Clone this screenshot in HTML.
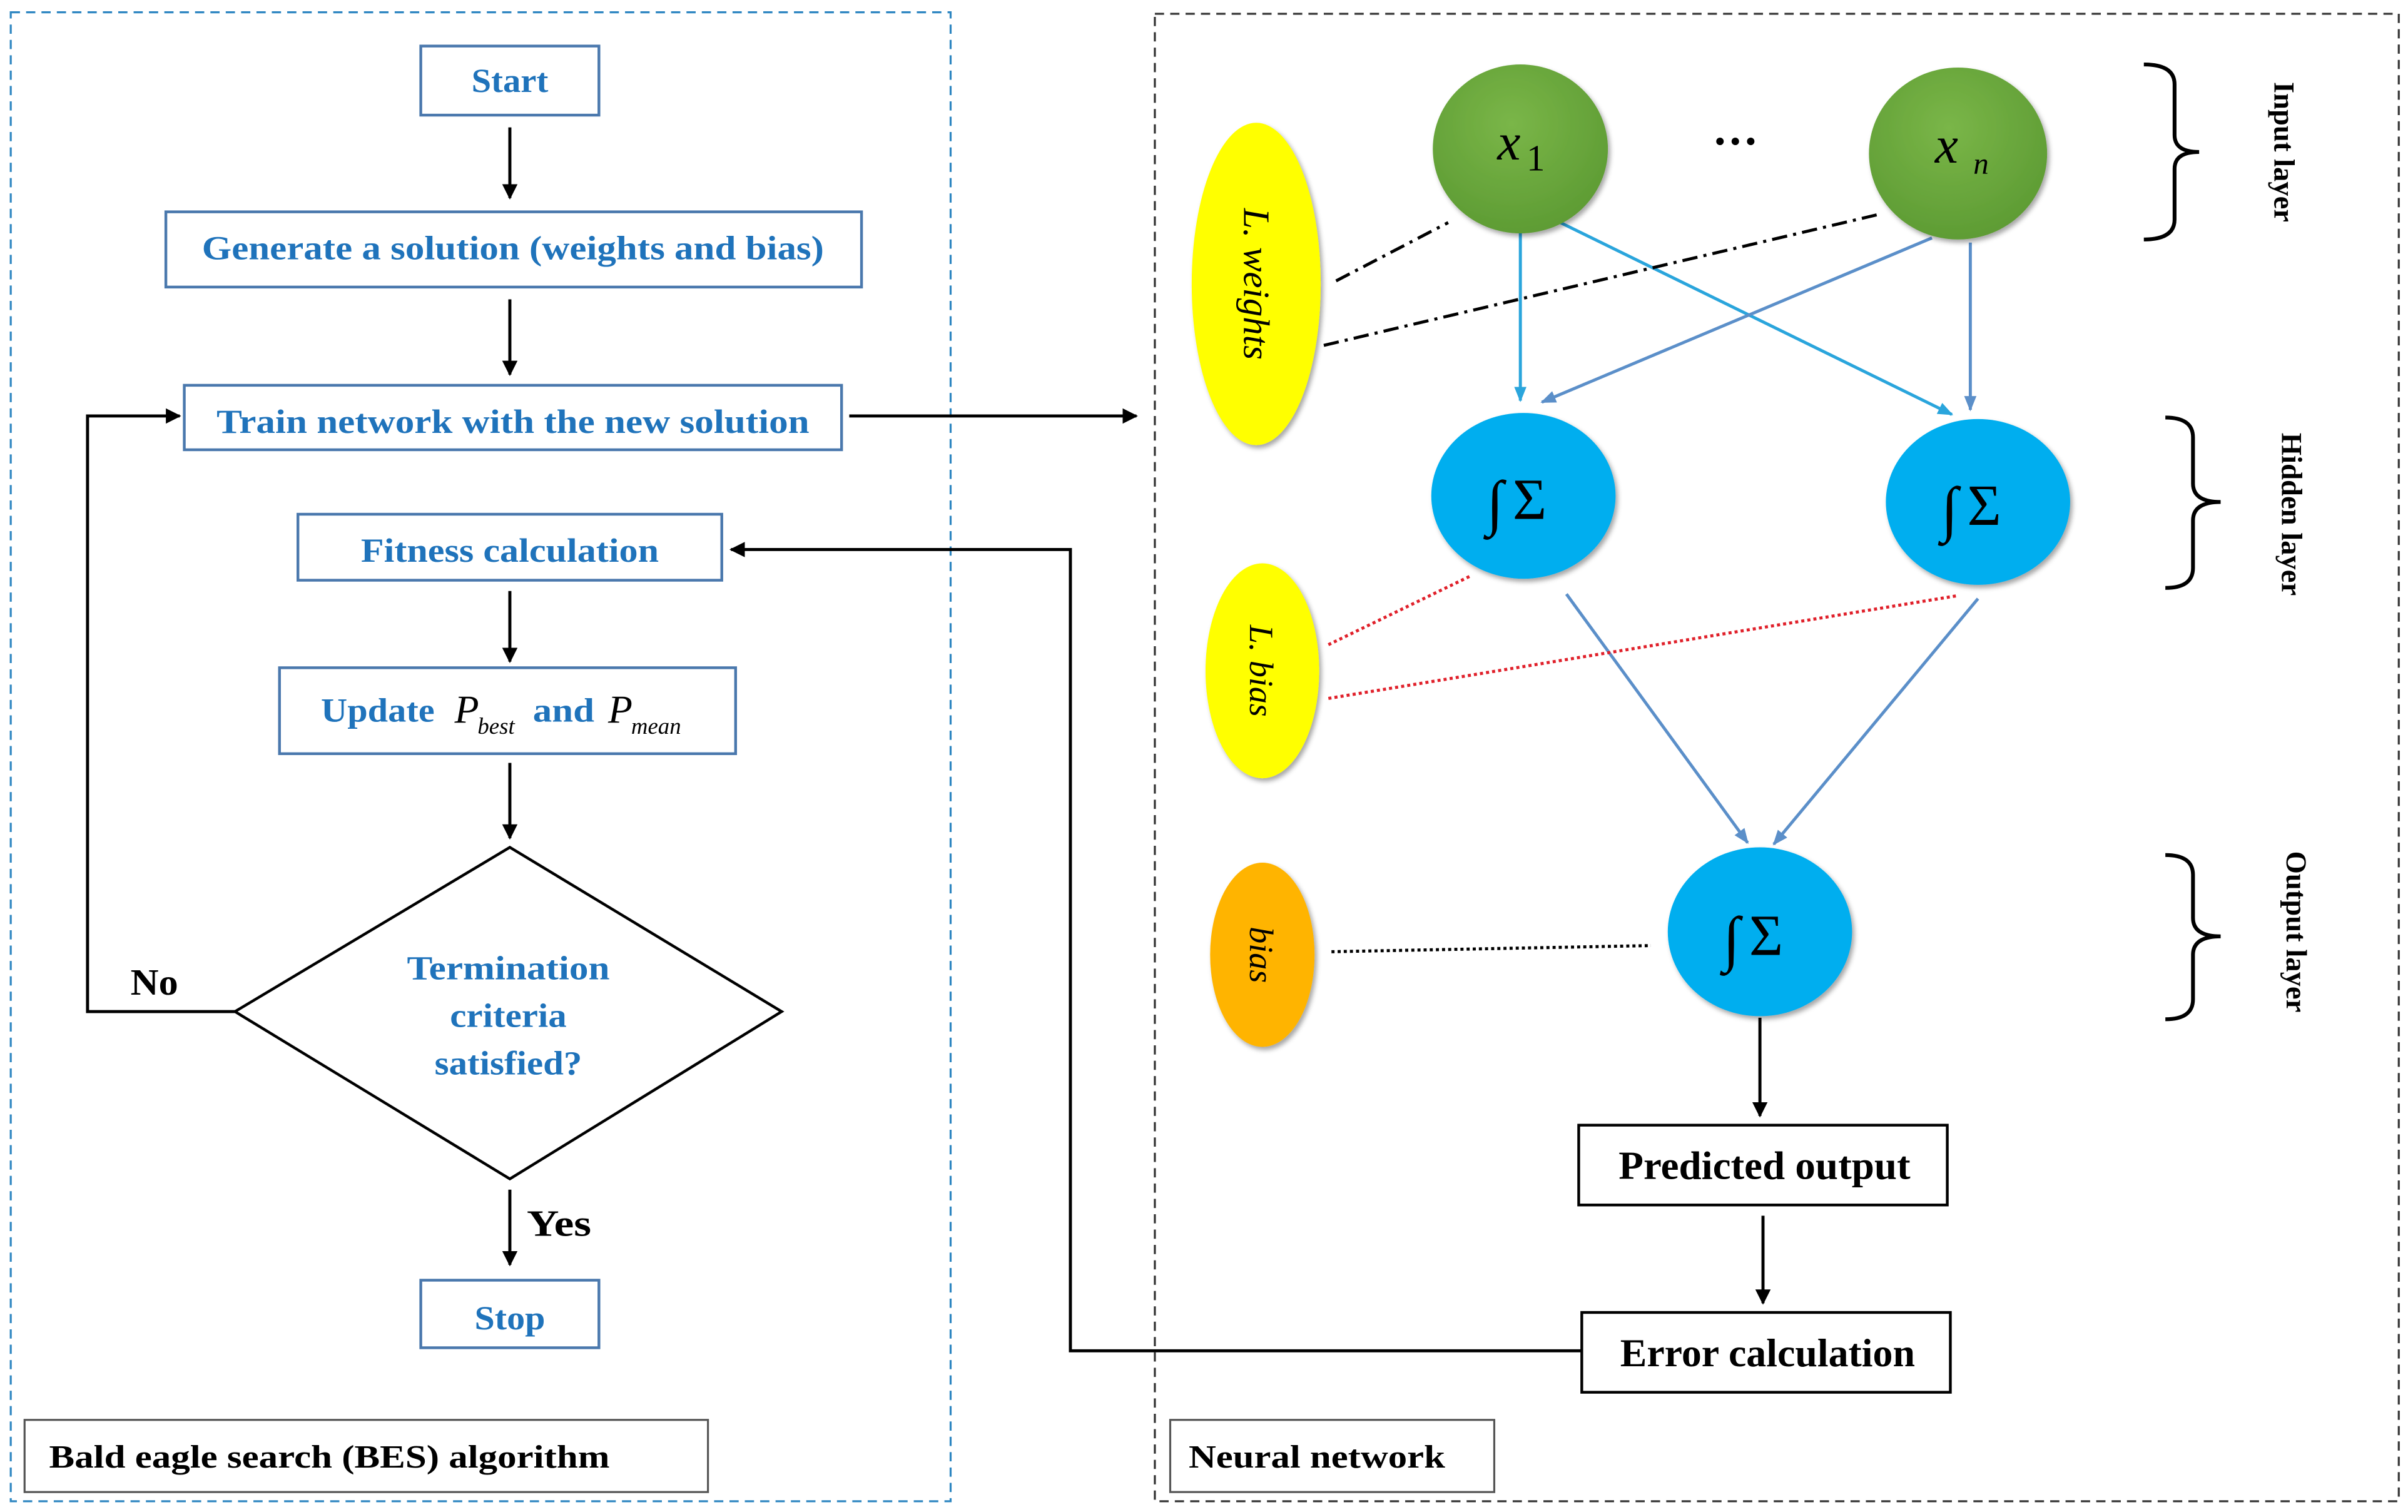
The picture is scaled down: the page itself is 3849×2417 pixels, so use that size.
<!DOCTYPE html>
<html><head><meta charset="utf-8"><style>
html,body{margin:0;padding:0;background:#fff;}
svg{display:block;}
text{font-family:"Liberation Serif",serif;}
</style></head><body>
<svg width="3849" height="2417" viewBox="0 0 1568 985" preserveAspectRatio="none" xmlns="http://www.w3.org/2000/svg">
<defs>
<marker id="ak" markerWidth="10" markerHeight="10" refX="9" refY="5" orient="auto" markerUnits="userSpaceOnUse"><path d="M0,0 L10,5 L0,10 Z" fill="#000"/></marker>
<marker id="ab" markerWidth="10" markerHeight="10" refX="9" refY="5" orient="auto" markerUnits="userSpaceOnUse"><path d="M0,1 L10,5 L0,9 Z" fill="#2aa5dc"/></marker>
<marker id="ag" markerWidth="10" markerHeight="10" refX="9" refY="5" orient="auto" markerUnits="userSpaceOnUse"><path d="M0,1 L10,5 L0,9 Z" fill="#5b8fc9"/></marker>
<radialGradient id="gg" cx="45%" cy="35%" r="65%"><stop offset="0" stop-color="#7ab648"/><stop offset="1" stop-color="#5e9c34"/></radialGradient>
<filter id="sh" x="-20%" y="-20%" width="140%" height="140%"><feDropShadow dx="1.5" dy="2" stdDeviation="1.5" flood-color="#000" flood-opacity="0.35"/></filter>
</defs>
<rect width="1568" height="985" fill="#fff"/>
<rect x="7" y="8" width="612" height="970" fill="none" stroke="#2e86c1" stroke-width="1.3" stroke-dasharray="6,4"/>
<rect x="752" y="9" width="810" height="969" fill="none" stroke="#333" stroke-width="1.3" stroke-dasharray="6,4"/>

<g fill="#fff" stroke="#4a78ad" stroke-width="1.8">
<rect x="274" y="30" width="116" height="45"/>
<rect x="108" y="138" width="453" height="49"/>
<rect x="120" y="251" width="428" height="42"/>
<rect x="194" y="335" width="276" height="43"/>
<rect x="182" y="435" width="297" height="56"/>
<rect x="274" y="834" width="116" height="44"/>
</g>
<polygon points="332,552 509,659 332,768 153,659" fill="#fff" stroke="#000" stroke-width="1.8"/>
<g fill="#1f73bb" font-weight="bold" font-size="22" text-anchor="middle">
<text x="332" y="60" textLength="50" lengthAdjust="spacingAndGlyphs">Start</text>
<text x="334" y="169" textLength="405" lengthAdjust="spacingAndGlyphs">Generate a solution (weights and bias)</text>
<text x="334" y="282" textLength="386" lengthAdjust="spacingAndGlyphs">Train network with the new solution</text>
<text x="332" y="366" textLength="194" lengthAdjust="spacingAndGlyphs">Fitness calculation</text>
<text x="332" y="866" textLength="46" lengthAdjust="spacingAndGlyphs">Stop</text>
<text x="331" y="638" textLength="132" lengthAdjust="spacingAndGlyphs">Termination</text>
<text x="331" y="669" textLength="76" lengthAdjust="spacingAndGlyphs">criteria</text>
<text x="331" y="700" textLength="96" lengthAdjust="spacingAndGlyphs">satisfied?</text>
</g>
<g font-size="22">
<text x="209" y="470" fill="#1f73bb" font-weight="bold" textLength="74" lengthAdjust="spacingAndGlyphs">Update</text>
<text x="296" y="471" font-style="italic" font-size="26">P</text>
<text x="311" y="478" font-style="italic" font-size="15">best</text>
<text x="347" y="470" fill="#1f73bb" font-weight="bold" textLength="40" lengthAdjust="spacingAndGlyphs">and</text>
<text x="396" y="471" font-style="italic" font-size="26">P</text>
<text x="411" y="478" font-style="italic" font-size="15">mean</text>
</g>

<g stroke="#000" stroke-width="2" fill="none" marker-end="url(#ak)">
<line x1="332" y1="83" x2="332" y2="129"/>
<line x1="332" y1="195" x2="332" y2="244"/>
<line x1="553" y1="271" x2="740" y2="271"/>
<line x1="332" y1="385" x2="332" y2="431"/>
<line x1="332" y1="497" x2="332" y2="546"/>
<line x1="332" y1="775" x2="332" y2="824"/>
<polyline points="153,659 57,659 57,271 117,271"/>
<polyline points="1030,880 697,880 697,358 476,358"/>
<line x1="1146" y1="663" x2="1146" y2="727"/>
<line x1="1148" y1="792" x2="1148" y2="849"/>
</g>
<g font-weight="bold" font-size="24" fill="#000">
<text x="85" y="648" textLength="31" lengthAdjust="spacingAndGlyphs">No</text>
<text x="343" y="805" textLength="42" lengthAdjust="spacingAndGlyphs">Yes</text>
</g>

<rect x="16" y="925" width="445" height="47" fill="#fff" stroke="#555" stroke-width="1.3"/>
<text x="32" y="956" font-weight="bold" font-size="21" textLength="365" lengthAdjust="spacingAndGlyphs">Bald eagle search (BES) algorithm</text>
<rect x="762" y="925" width="211" height="47" fill="#fff" stroke="#555" stroke-width="1.3"/>
<text x="774" y="956" font-weight="bold" font-size="21" textLength="167" lengthAdjust="spacingAndGlyphs">Neural network</text>

<g stroke-width="2" fill="none">
<line x1="990" y1="147" x2="990" y2="261" stroke="#2aa5dc" marker-end="url(#ab)"/>
<line x1="1012" y1="143" x2="1271" y2="270" stroke="#2aa5dc" marker-end="url(#ab)"/>
<line x1="1258" y1="155" x2="1004" y2="262" stroke="#5b8fc9" marker-end="url(#ag)"/>
<line x1="1283" y1="158" x2="1283" y2="267" stroke="#5b8fc9" marker-end="url(#ag)"/>
<line x1="1020" y1="387" x2="1138" y2="549" stroke="#5b8fc9" marker-end="url(#ag)"/>
<line x1="1288" y1="390" x2="1155" y2="550" stroke="#5b8fc9" marker-end="url(#ag)"/>
<line x1="870" y1="183" x2="943" y2="145" stroke="#000" stroke-dasharray="10,4,2,4"/>
<line x1="862" y1="225" x2="1222" y2="140" stroke="#000" stroke-dasharray="10,4,2,4"/>
<line x1="865" y1="420" x2="958" y2="375" stroke="#e0202a" stroke-dasharray="2,2"/>
<line x1="865" y1="455" x2="1275" y2="388" stroke="#e0202a" stroke-dasharray="2,2"/>
<line x1="867" y1="620" x2="1075" y2="616" stroke="#000" stroke-dasharray="2,2"/>
</g>

<g filter="url(#sh)">
<ellipse cx="990" cy="97" rx="57" ry="55" fill="url(#gg)"/>
<ellipse cx="1275" cy="100" rx="58" ry="56" fill="url(#gg)"/>
<ellipse cx="818" cy="185" rx="42" ry="105" fill="#ffff00"/>
<ellipse cx="992" cy="323" rx="60" ry="54" fill="#00aeef"/>
<ellipse cx="1288" cy="327" rx="60" ry="54" fill="#00aeef"/>
<ellipse cx="822" cy="437" rx="37" ry="70" fill="#ffff00"/>
<ellipse cx="822" cy="622" rx="34" ry="60" fill="#ffb400"/>
<ellipse cx="1146" cy="607" rx="60" ry="55" fill="#00aeef"/>
</g>
<g font-style="italic" fill="#000">
<text x="975" y="104" font-size="34">x</text><text x="994" y="111" font-size="24" font-style="normal">1</text>
<text x="1260" y="106" font-size="34">x</text><text x="1285" y="113" font-size="20">n</text>
<text x="1130" y="102" font-size="30" font-style="normal" text-anchor="middle" font-weight="bold">···</text>
<text transform="translate(810,185) rotate(90)" font-size="24" text-anchor="middle">L. weights</text>
<text transform="translate(814,437) rotate(90)" font-size="22" text-anchor="middle">L. bias</text>
<text transform="translate(814,622) rotate(90)" font-size="22" text-anchor="middle">bias</text>
</g>
<g font-size="40" fill="#000">
<text x="968" y="341">∫</text><text x="985" y="338" font-size="38">Σ</text>
<text x="1264" y="345">∫</text><text x="1281" y="342" font-size="38">Σ</text>
<text x="1122" y="625">∫</text><text x="1139" y="622" font-size="38">Σ</text>
</g>

<rect x="1028" y="733" width="240" height="52" fill="#fff" stroke="#000" stroke-width="1.8"/>
<text x="1149" y="768" font-weight="bold" font-size="26" text-anchor="middle" textLength="190" lengthAdjust="spacingAndGlyphs">Predicted output</text>
<rect x="1030" y="855" width="240" height="52" fill="#fff" stroke="#000" stroke-width="1.8"/>
<text x="1151" y="890" font-weight="bold" font-size="26" text-anchor="middle" textLength="192" lengthAdjust="spacingAndGlyphs">Error calculation</text>

<g fill="none" stroke="#000" stroke-width="2.5">
<path d="M1396,42 Q1416,42 1416,55 L1416,88 Q1416,99 1432,99 Q1416,99 1416,110 L1416,143 Q1416,156 1396,156"/>
<path d="M1410,272 Q1428,272 1428,285 L1428,315 Q1428,327 1446,327 Q1428,327 1428,339 L1428,370 Q1428,383 1410,383"/>
<path d="M1410,557 Q1428,557 1428,570 L1428,598 Q1428,610 1446,610 Q1428,610 1428,622 L1428,651 Q1428,664 1410,664"/>
</g>
<g font-weight="bold" font-size="19" fill="#000" text-anchor="middle">
<text transform="translate(1481,99) rotate(90)">Input layer</text>
<text transform="translate(1486,335) rotate(90)">Hidden layer</text>
<text transform="translate(1489,607) rotate(90)">Output layer</text>
</g>
</svg>
</body></html>
